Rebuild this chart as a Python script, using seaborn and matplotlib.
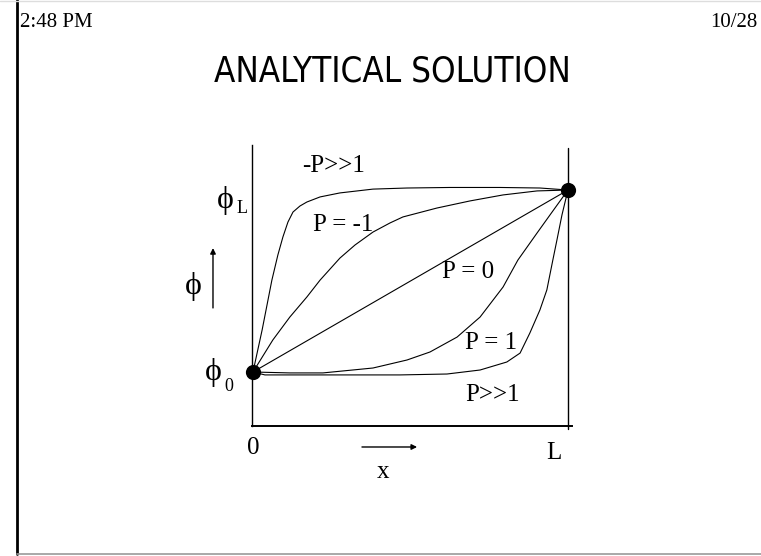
import numpy as np
import pandas as pd
import matplotlib
matplotlib.use("Agg")
import matplotlib.pyplot as plt
from matplotlib.lines import Line2D
import seaborn as sns

# -----------------------------
# curve data (x / L, (phi - phi0) / (phiL - phi0))
# -----------------------------
neg_large_x = [0, 0.029, 0.060, 0.079, 0.095, 0.111, 0.127, 0.149, 0.171, 0.213, 0.276, 0.381, 0.489, 0.625, 0.784, 0.911, 1.0]
neg_large_y = [0, 0.231, 0.505, 0.643, 0.742, 0.824, 0.879, 0.912, 0.934, 0.962, 0.984, 1.005, 1.011, 1.014, 1.014, 1.011, 1.0]

neg_one_x = [0, 0.063, 0.117, 0.171, 0.213, 0.276, 0.324, 0.381, 0.435, 0.476, 0.584, 0.689, 0.794, 0.902, 1.0]
neg_one_y = [0, 0.176, 0.302, 0.412, 0.505, 0.626, 0.698, 0.769, 0.819, 0.852, 0.901, 0.940, 0.973, 0.995, 1.0]

zero_x = [0, 1.0]
zero_y = [0, 1.0]

pos_one_x = [0, 0.117, 0.222, 0.381, 0.489, 0.562, 0.648, 0.721, 0.794, 0.841, 0.902, 0.943, 1.0]
pos_one_y = [0, -0.005, -0.005, 0.022, 0.066, 0.110, 0.192, 0.302, 0.467, 0.615, 0.764, 0.863, 1.0]

pos_large_x = [0, 0.038, 0.149, 0.308, 0.467, 0.616, 0.721, 0.806, 0.848, 0.879, 0.911, 0.933, 0.952, 0.965, 0.981, 1.0]
pos_large_y = [0, -0.016, -0.016, -0.016, -0.016, -0.011, 0.011, 0.055, 0.104, 0.214, 0.341, 0.451, 0.615, 0.725, 0.863, 1.0]

curve_names = ["-P>>1", "P = -1", "P = 0", "P = 1", "P>>1"]
end_x = [0, 1.0]
end_y = [0, 1.0]

# -----------------------------
# long-form table
# -----------------------------
frames = []
for name, xs, ys in zip(curve_names,
                        [neg_large_x, neg_one_x, zero_x, pos_one_x, pos_large_x],
                        [neg_large_y, neg_one_y, zero_y, pos_one_y, pos_large_y]):
    frames.append(pd.DataFrame({"x": xs, "y": ys, "curve": name}))
df = pd.concat(frames, ignore_index=True)

sns.set_style("white")
serif = ["Liberation Serif", "DejaVu Serif"]
plt.rcParams["font.family"] = serif
plt.rcParams["text.color"] = "black"

fig = plt.figure(figsize=(7.61, 5.56), dpi=100)
ax = fig.add_axes([0.3312, 0.2337, 0.4205, 0.5054])

sns.lineplot(data=df, x="x", y="y", hue="curve", units="curve", estimator=None,
             sort=False, palette=["black"] * len(curve_names), linewidth=0.8,
             legend=False, ax=ax)
sns.scatterplot(x=end_x, y=end_y, color="black", s=120, linewidth=0,
                zorder=5, clip_on=False, ax=ax)

ax.set_xlim(-0.003, 1.013)
ax.set_ylim(-0.297, 1.247)
ax.set_xticks([])
ax.set_yticks([])
ax.set_xlabel("")
ax.set_ylabel("")
ax.spines["top"].set_visible(False)
ax.spines["right"].set_visible(False)
ax.spines["left"].set_linewidth(1.0)
ax.spines["bottom"].set_linewidth(1.4)
for s in ["left", "bottom"]:
    ax.spines[s].set_color("black")
ax.axvline(1.0, ymin=-0.01, ymax=0.99, color="black", linewidth=1.0, clip_on=False)

# curve labels
lab = dict(fontsize=18, ha="center", va="center", family=serif)
ax.text(0.257, 1.132, "-P>>1", **lab)
ax.text(0.287, 0.808, "P = -1", **lab)
ax.text(0.683, 0.549, "P = 0", **lab)
ax.text(0.756, 0.159, "P = 1", **lab)
ax.text(0.762, -0.126, "P>>1", **lab)

# axis annotations
phi = dict(fontsize=23, ha="center", va="center", family=serif, clip_on=False)
ax.text(-0.088, 0.945, "\u03d5", **phi)
ax.text(-0.036, 0.898, "L", fontsize=13, ha="center", va="center", family=serif)
ax.text(-0.190, 0.468, "\u03d5", **phi)
ax.text(-0.126, -0.005, "\u03d5", **phi)
ax.text(-0.076, -0.082, "0", fontsize=13, ha="center", va="center", family=serif)
ax.annotate("", xy=(-0.127, 0.681), xytext=(-0.127, 0.352),
            arrowprops=dict(arrowstyle="-|>", color="black", lw=1.0,
                            mutation_scale=8, shrinkA=0, shrinkB=0),
            annotation_clip=False)
ax.text(0.0, -0.418, "0", fontsize=18, ha="center", va="center", family=serif)
ax.text(0.954, -0.445, "L", fontsize=18, ha="center", va="center", family=serif)
ax.annotate("", xy=(0.521, -0.412), xytext=(0.346, -0.412),
            arrowprops=dict(arrowstyle="-|>", color="black", lw=1.0,
                            mutation_scale=8, shrinkA=0, shrinkB=0),
            annotation_clip=False)
ax.text(0.412, -0.549, "x", fontsize=18, ha="center", va="center", family=serif)

# slide header / title
fig.text(0.026, 0.960, "2:48 PM", fontsize=15, ha="left", va="center", family=serif)
fig.text(0.995, 0.960, "10/28", fontsize=15, ha="right", va="center", family=serif)
fig.text(0.515, 0.872, "ANALYTICAL SOLUTION", fontsize=25, ha="center", va="center",
         family=["DejaVu Sans"], fontstretch="condensed")

# slide frame
fig.add_artist(Line2D([0.0225, 0.0225], [0.004, 1.0], transform=fig.transFigure,
                      color="black", linewidth=2.0))
fig.add_artist(Line2D([0.0225, 1.0], [0.003, 0.003], transform=fig.transFigure,
                      color="#999999", linewidth=1.2))
fig.add_artist(Line2D([0.0, 1.0], [0.999, 0.999], transform=fig.transFigure,
                      color="#dddddd", linewidth=1.0))

fig.savefig("out.png", dpi=100)
plt.close(fig)
